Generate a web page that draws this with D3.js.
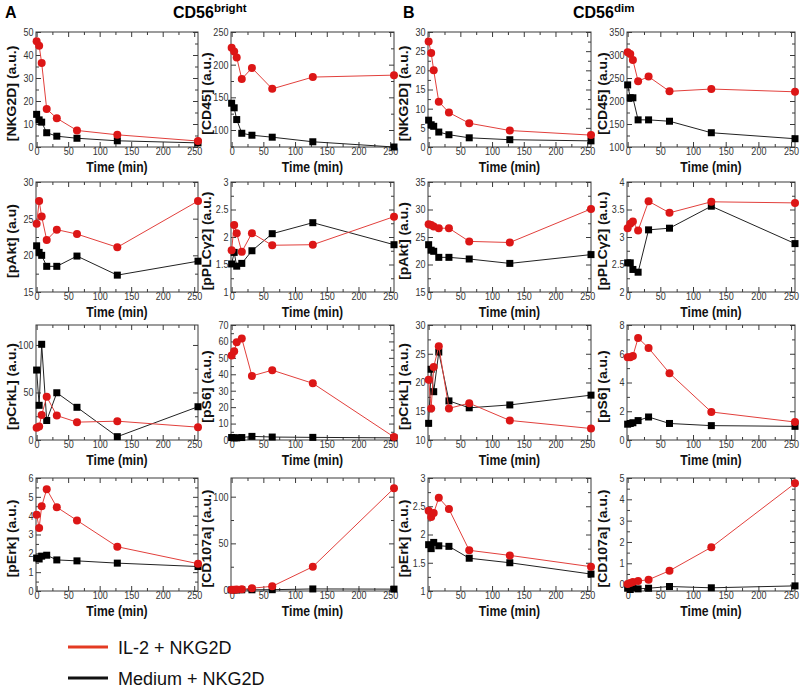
<!DOCTYPE html>
<html><head><meta charset="utf-8">
<script src="https://cdn.jsdelivr.net/npm/d3@7"></script>
<style>
body{margin:0;background:#fff}
text{font-family:"Liberation Sans",Arial,Helvetica,sans-serif}
</style>
</head><body>
<svg id="c" width="800" height="690"></svg>
<script>
// ---------- DATA ----------
const times = [0, 4, 8, 16, 32, 64, 128, 256];
const xTicks = [0, 50, 100, 150, 200, 250];
const seriesNames = ["IL-2 + NKG2D", "Medium + NKG2D"];
const groupTitles = ["CD56", "CD56"];
const groupSups = ["bright", "dim"];
const groupLetters = ["A", "B"];

// CD56bright
const nkg2dBrightIL2 = [46, 44, 36.5, 16.5, 12.5, 7.2, 5.3, 2.6];
const nkg2dBrightMed = [14.2, 11.8, 10.8, 6.2, 4.7, 3.8, 2.7, 1.8];
const cd45BrightIL2 = [226, 220, 211, 178, 195, 163, 181, 184];
const cd45BrightMed = [141, 134, 116, 95, 92, 89, 82, 74];
const pAktBrightIL2 = [24.3, 27.4, 25.3, 22.1, 23.5, 22.9, 21.1, 27.4];
const pAktBrightMed = [21.3, 20.4, 20.0, 18.5, 18.5, 19.9, 17.3, 19.2];
const pPlcBrightIL2 = [1.76, 2.22, 2.07, 1.73, 2.07, 1.85, 1.86, 2.37];
const pPlcBrightMed = [1.51, 1.72, 1.47, 1.52, 1.75, 2.06, 2.26, 1.86];
const pCrkLBrightIL2 = [12.8, 14.2, 26.4, 45.5, 25.7, 18.8, 19.8, 13.5];
const pCrkLBrightMed = [73.6, 36.5, 100.7, 20.5, 49.7, 34.4, 3.5, 35];
const pS6BrightIL2 = [51.5, 54, 59.5, 61.8, 39, 42.5, 34.5, 1.8];
const pS6BrightMed = [1.5, 1.3, 1.3, 1.5, 2.2, 1.8, 1.6, 1.3];
const pErkBrightIL2 = [4.05, 3.35, 4.5, 5.4, 4.45, 3.75, 2.35, 1.45];
const pErkBrightMed = [1.75, 1.7, 1.85, 1.9, 1.65, 1.6, 1.48, 1.3];
const cd107BrightIL2 = [0.3, 0.4, 0.5, 0.8, 2, 4, 25, 109];
const cd107BrightMed = [0.2, 0.2, 0.2, 0.3, 0.3, 0.4, 1.2, 1.0];

// CD56dim
const nkg2dDimIL2 = [27.5, 24.5, 20, 11.8, 9, 6.2, 4.3, 3.1];
const nkg2dDimMed = [7, 5.8, 5.4, 3.9, 3.2, 2.4, 1.9, 1.6];
const cd45DimIL2 = [306, 302, 289, 243, 253, 221, 226, 220];
const cd45DimMed = [235, 207, 207, 159, 159, 156, 131, 118];
const pAktDimIL2 = [27.3, 27.2, 26.9, 26.6, 26.6, 24.2, 24.0, 30.1];
const pAktDimMed = [23.6, 22.6, 22.4, 21.3, 21.3, 21.0, 20.2, 21.8];
const pPlcDimIL2 = [3.16, 3.24, 3.28, 3.12, 3.65, 3.44, 3.64, 3.62];
const pPlcDimMed = [2.53, 2.53, 2.41, 2.36, 3.13, 3.16, 3.56, 2.88];
const pCrkLDimIL2 = [20.5, 15.5, 22.7, 26.3, 15.5, 16.4, 13.4, 12];
const pCrkLDimMed = [12.9, 22.3, 18.4, 25.3, 16.8, 15.6, 16.1, 17.8];
const pS6DimIL2 = [5.75, 5.75, 5.85, 7.1, 6.4, 4.65, 1.95, 1.25];
const pS6DimMed = [1.1, 1.15, 1.2, 1.35, 1.6, 1.15, 1.0, 0.95];
const pErkDimIL2 = [2.42, 2.31, 2.38, 2.65, 2.45, 1.72, 1.63, 1.43];
const pErkDimMed = [1.82, 1.75, 1.86, 1.8, 1.79, 1.58, 1.5, 1.3];
const cd107DimIL2 = [0.03, 0.08, 0.12, 0.17, 0.23, 0.65, 1.75, 4.75];
const cd107DimMed = [-0.17, -0.23, -0.15, -0.2, -0.17, -0.09, -0.15, -0.06];

// y-axis labels / domains / tick values
const yLabels = [
  ["[NKG2D] (a.u.)", "[CD45] (a.u.)", "[NKG2D] (a.u.)", "[CD45] (a.u.)"],
  ["[pAkt] (a.u)", "[pPLCγ2] (a.u.)", "[pAkt] (a.u.)", "[pPLCγ2] (a.u.)"],
  ["[pCrkL] (a.u.)", "[pS6] (a.u.)", "[pCrkL] (a.u.)", "[pS6] (a.u.)"],
  ["[pErk] (a.u.)", "[CD107a] (a.u.)", "[pErk] (a.u.)", "[CD107a] (a.u.)"]
];
const yDomains = [
  [[0, 50], [74, 250], [0, 30], [100, 350]],
  [[15, 30], [1, 3], [15, 35], [2, 4]],
  [[0, 121], [0, 70], [10, 30], [0, 8]],
  [[0, 6], [-1, 120], [1, 3], [-0.3, 5]]
];
const yTickVals = [
  [[0, 10, 20, 30, 40, 50], [100, 150, 200, 250], [0, 5, 10, 15, 20, 25, 30], [100, 150, 200, 250, 300, 350]],
  [[15, 20, 25, 30], [1, 1.5, 2, 2.5, 3], [15, 20, 25, 30, 35], [2, 2.5, 3, 3.5, 4]],
  [[0, 50, 100], [0, 10, 20, 30, 40, 50, 60, 70], [10, 15, 20, 25, 30], [0, 2, 4, 6, 8]],
  [[0, 1, 2, 3, 4, 5, 6], [0, 50, 100], [1, 1.5, 2, 2.5, 3], [0, 1, 2, 3, 4, 5]]
];
const il2Series = [
  [nkg2dBrightIL2, cd45BrightIL2, nkg2dDimIL2, cd45DimIL2],
  [pAktBrightIL2, pPlcBrightIL2, pAktDimIL2, pPlcDimIL2],
  [pCrkLBrightIL2, pS6BrightIL2, pCrkLDimIL2, pS6DimIL2],
  [pErkBrightIL2, cd107BrightIL2, pErkDimIL2, cd107DimIL2]
];
const medSeries = [
  [nkg2dBrightMed, cd45BrightMed, nkg2dDimMed, cd45DimMed],
  [pAktBrightMed, pPlcBrightMed, pAktDimMed, pPlcDimMed],
  [pCrkLBrightMed, pS6BrightMed, pCrkLDimMed, pS6DimMed],
  [pErkBrightMed, cd107BrightMed, pErkDimMed, cd107DimMed]
];

// ---------- LAYOUT ----------
const colX = [[36, 198], [231, 394], [428, 591], [627, 795]];
const rowY = [[32, 147], [182, 292], [325, 440], [478, 591]];
const RED_LINE = "#e2403c", RED_PT = "#dc1616", BLK_LINE = "#222", BLK_PT = "#000";
const FRAME = "#3a3a3a", TICKTXT = "#333";

const svg = d3.select("#c");
const fmt = d3.format("~g");

function minors(majors, dom) {
  const out = [];
  const step = majors[1] - majors[0];
  const lo = Math.min(dom[0], dom[1]), hi = Math.max(dom[0], dom[1]);
  for (let v = majors[0] - step / 2; v <= hi + 1e-9; v += step) {
    if (v >= lo - 1e-9 && !majors.some(m => Math.abs(m - v) < 1e-9)) out.push(+v.toFixed(6));
  }
  return out;
}

function drawPanel(r, c) {
  const [x0, x1] = colX[c], [y0, y1] = rowY[r];
  const x = d3.scaleLinear().domain([-1, 256]).range([x0, x1]);
  const y = d3.scaleLinear().domain(yDomains[r][c]).range([y1, y0]);
  const g = svg.append("g");
  const yt = yTickVals[r][c];
  const xMin = minors(xTicks, x.domain());
  const yMin = minors(yt, y.domain());

  const styleAxis = sel => {
    sel.select(".domain").remove();
    sel.selectAll(".tick line").attr("stroke", FRAME);
    sel.selectAll(".tick text").attr("fill", TICKTXT).attr("font-size", 10.5)
      .attr("font-family", '"Liberation Sans",Arial,sans-serif')
      .attr("transform", "scale(0.86,1)");
  };
  // bottom
  g.append("g").attr("transform", `translate(0,${y1})`)
    .call(d3.axisBottom(x).tickValues(xTicks).tickSize(-5).tickPadding(1).tickFormat(fmt)).call(styleAxis);
  g.append("g").attr("transform", `translate(0,${y1})`)
    .call(d3.axisBottom(x).tickValues(xMin).tickSize(-3).tickFormat("")).call(styleAxis);
  // top
  g.append("g").attr("transform", `translate(0,${y0})`)
    .call(d3.axisTop(x).tickValues(xTicks).tickSize(-5).tickFormat("")).call(styleAxis);
  g.append("g").attr("transform", `translate(0,${y0})`)
    .call(d3.axisTop(x).tickValues(xMin).tickSize(-3).tickFormat("")).call(styleAxis);
  // left
  g.append("g").attr("transform", `translate(${x0},0)`)
    .call(d3.axisLeft(y).tickValues(yt).tickSize(-5).tickPadding(3).tickFormat(fmt)).call(styleAxis);
  g.append("g").attr("transform", `translate(${x0},0)`)
    .call(d3.axisLeft(y).tickValues(yMin).tickSize(-3).tickFormat("")).call(styleAxis);
  // right
  g.append("g").attr("transform", `translate(${x1},0)`)
    .call(d3.axisRight(y).tickValues(yt).tickSize(-5).tickFormat("")).call(styleAxis);
  g.append("g").attr("transform", `translate(${x1},0)`)
    .call(d3.axisRight(y).tickValues(yMin).tickSize(-3).tickFormat("")).call(styleAxis);

  g.append("rect").attr("x", x0).attr("y", y0).attr("width", x1 - x0).attr("height", y1 - y0)
    .attr("fill", "none").attr("stroke", FRAME).attr("stroke-width", 1);

  const line = d3.line().x((d, i) => x(times[i])).y(d => y(d));
  const med = medSeries[r][c], il2 = il2Series[r][c];
  g.append("path").datum(med).attr("d", line).attr("fill", "none").attr("stroke", BLK_LINE).attr("stroke-width", 1);
  g.selectAll("rect.m").data(med).join("rect").attr("class", "m")
    .attr("x", (d, i) => x(times[i]) - 3.5).attr("y", d => y(d) - 3.5)
    .attr("width", 7).attr("height", 7).attr("fill", BLK_PT);
  g.append("path").datum(il2).attr("d", line).attr("fill", "none").attr("stroke", RED_LINE).attr("stroke-width", 1);
  g.selectAll("circle.i").data(il2).join("circle").attr("class", "i")
    .attr("cx", (d, i) => x(times[i])).attr("cy", d => y(d)).attr("r", 4).attr("fill", RED_PT);

  // axis titles
  const cx = (x0 + x1) / 2;
  g.append("text").attr("transform", `translate(${cx},${y1 + 25}) scale(0.87,1)`)
    .attr("text-anchor", "middle").attr("font-size", 14).attr("font-weight", "bold").attr("fill", "#111")
    .text("Time (min)");
  g.append("text").attr("transform", `translate(${x0 - 20},${(y0 + y1) / 2 + 4}) rotate(-90) scale(1,0.87)`)
    .attr("text-anchor", "middle").attr("font-size", 14).attr("font-weight", "bold").attr("fill", "#111")
    .text(yLabels[r][c]);
}

for (let r = 0; r < 4; r++) for (let c = 0; c < 4; c++) drawPanel(r, c);

// headers
const headerX = [[5, 173], [403, 573]];
groupLetters.forEach((L, i) => {
  svg.append("text").attr("x", headerX[i][0]).attr("y", 18).attr("font-size", 16).attr("font-weight", "bold").text(L);
  const t = svg.append("text").attr("x", headerX[i][1]).attr("y", 18).attr("font-size", 16).attr("font-weight", "bold");
  t.append("tspan").text(groupTitles[i]);
  t.append("tspan").attr("font-size", 11.5).attr("dy", -6).text(groupSups[i]);
});

// legend
const legColors = ["#e43a22", "#111"];
seriesNames.forEach((n, i) => {
  const yy = 647 + i * 31;
  svg.append("line").attr("x1", 68).attr("x2", 108).attr("y1", yy).attr("y2", yy)
    .attr("stroke", legColors[i]).attr("stroke-width", 3);
  svg.append("text").attr("x", 118).attr("y", yy + 7).attr("font-size", 18).attr("fill", "#111").text(n);
});
</script>
</body></html>
